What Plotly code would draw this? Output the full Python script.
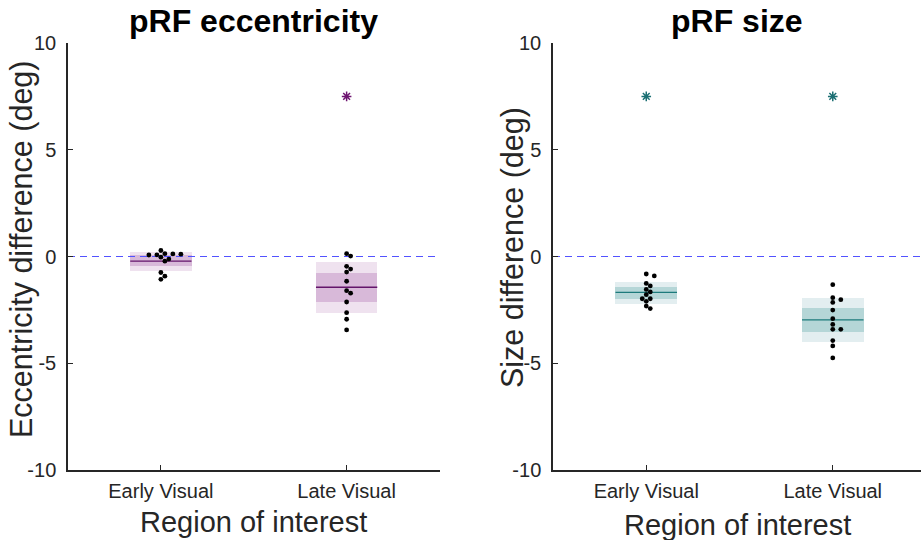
import plotly.graph_objects as go

# ---------------- data ----------------
categories = ["Early Visual", "Late Visual"]
cat_pos = [1, 2]

ecc_early = [0.28, 0.13, 0.08, 0.12, 0.07, 0.11, -0.03, -0.12, -0.22, -0.75, -0.92, -1.07]
ecc_late = [0.13, 0.02, -0.46, -0.59, -0.73, -1.16, -1.60, -1.72, -2.13, -2.63, -2.94, -3.44]
size_early = [-0.82, -0.91, -1.26, -1.38, -1.54, -1.66, -1.79, -1.98, -1.98, -2.10, -2.32, -2.44]
size_late = [-1.32, -1.93, -2.02, -2.15, -2.51, -2.91, -3.18, -3.41, -3.41, -3.94, -4.19, -4.75]

ecc_median = [-0.22, -1.44]
ecc_inner_lo = [-0.45, -2.13]
ecc_inner_hi = [0.07, -0.79]
ecc_outer_lo = [-0.66, -2.63]
ecc_outer_hi = [0.21, -0.27]

size_median = [-1.68, -2.97]
size_inner_lo = [-1.98, -3.55]
size_inner_hi = [-1.41, -2.40]
size_outer_lo = [-2.21, -3.99]
size_outer_hi = [-1.19, -1.96]

ecc_sig = [None, 7.5]
size_sig = [7.5, 7.5]

yticks = [-10, -5, 0, 5, 10]
yticklabels = ["-10", "-5", "0", "5", "10"]

# ---------------- style ----------------
FONT = "Liberation Sans, Arial, Helvetica, sans-serif"
AXC = "#262626"
BOXW = 0.33
purple = dict(outer="#efe2ef", inner="#d8b9d9", med="#63146a", star="#6e1470")
teal = dict(outer="#e3eef0", inner="#b5d6d7", med="#1c7a7b", star="#1b6f73")

XPX = 185.75  # px per x unit
YPX = 21.35   # px per y unit


def swarm(vals, dmin=4.5, step=4.0):
    placed = []
    offs = []
    for v in vals:
        cands = [0]
        for i in range(1, 10):
            cands += [i * step, -i * step]
        for c in cands:
            ok = True
            for (px, pv) in placed:
                dx = c - px
                dy = (v - pv) * YPX
                if (dx * dx + dy * dy) ** 0.5 < dmin:
                    ok = False
                    break
            if ok:
                break
        placed.append((c, v))
        offs.append(c / XPX)
    return offs


fig = go.Figure()


def add_panel(xa, ya, groups, med, ilo, ihi, olo, ohi, sig, col):
    fig.add_trace(go.Bar(x=cat_pos, base=olo, y=[h - l for h, l in zip(ohi, olo)],
                         width=BOXW, marker=dict(color=col["outer"], line=dict(width=0)),
                         xaxis=xa, yaxis=ya, showlegend=False, hoverinfo="skip"))
    fig.add_trace(go.Bar(x=cat_pos, base=ilo, y=[h - l for h, l in zip(ihi, ilo)],
                         width=BOXW, marker=dict(color=col["inner"], line=dict(width=0)),
                         xaxis=xa, yaxis=ya, showlegend=False, hoverinfo="skip"))
    fig.add_trace(go.Scatter(x=[0.5, 2.5], y=[0, 0], mode="lines",
                             line=dict(color="#5252ff", width=1, dash="7px,5px"),
                             xaxis=xa, yaxis=ya, showlegend=False, hoverinfo="skip"))
    for c, m in zip(cat_pos, med):
        fig.add_trace(go.Scatter(x=[c - BOXW / 2, c + BOXW / 2], y=[m, m], mode="lines",
                                 line=dict(color=col["med"], width=1.3),
                                 xaxis=xa, yaxis=ya, showlegend=False, hoverinfo="skip"))
    for c, vals in zip(cat_pos, groups):
        offs = swarm(vals)
        fig.add_trace(go.Scatter(x=[c + o for o in offs], y=vals, mode="markers",
                                 marker=dict(color="black", size=4.8),
                                 xaxis=xa, yaxis=ya, showlegend=False))
    sx = [c for c, s in zip(cat_pos, sig) if s is not None]
    sy = [s for s in sig if s is not None]
    fig.add_trace(go.Scatter(x=sx, y=sy, mode="markers",
                             marker=dict(symbol="asterisk-open", size=8, color=col["star"],
                                         line=dict(color=col["star"], width=1.5)),
                             xaxis=xa, yaxis=ya, showlegend=False))


add_panel("x", "y", [ecc_early, ecc_late], ecc_median, ecc_inner_lo, ecc_inner_hi,
          ecc_outer_lo, ecc_outer_hi, ecc_sig, purple)
add_panel("x2", "y2", [size_early, size_late], size_median, size_inner_lo, size_inner_hi,
          size_outer_lo, size_outer_hi, size_sig, teal)

W, H = 921, 540
L1, R1 = 68 / W, 439.5 / W
L2, R2 = 553 / W, 1.0
Y0, Y1 = (H - 470) / H, (H - 43) / H

xcommon = dict(tickvals=cat_pos, ticktext=categories, ticks="inside", ticklen=5,
               tickwidth=1.3, tickcolor=AXC, showline=True, linecolor=AXC, linewidth=1.5,
               showgrid=False, zeroline=False, automargin=False,
               tickfont=dict(family=FONT, size=20, color="#262626"), ticklabelstandoff=2)
ycommon = dict(range=[-10, 10], tickvals=yticks, ticktext=yticklabels, ticks="inside",
               ticklen=5, tickwidth=1.3, tickcolor=AXC, showline=True, linecolor=AXC,
               linewidth=1.5, showgrid=False, zeroline=False, automargin=False,
               tickfont=dict(family=FONT, size=20, color="#262626"), ticklabelstandoff=6)

fig.update_layout(
    width=W, height=H, margin=dict(l=0, r=0, t=0, b=0, pad=0, autoexpand=False),
    paper_bgcolor="white", plot_bgcolor="white", barmode="overlay", bargap=0,
    xaxis=dict(domain=[L1, R1], range=[0.5, 2.5], anchor="y", **xcommon),
    yaxis=dict(domain=[Y0, Y1], anchor="x", **ycommon),
    xaxis2=dict(domain=[L2, R2], range=[0.5, 0.5 + (W - 554.5) / XPX], anchor="y2", **xcommon),
    yaxis2=dict(domain=[Y0, Y1], anchor="x2", **ycommon),
)

ann = []


def A(text, xpx, ypx, size, bold=False, angle=0):
    ann.append(dict(text=("<b>%s</b>" % text) if bold else text, x=xpx / W, y=(H - ypx) / H,
                    xref="paper", yref="paper", xanchor="center", yanchor="middle",
                    showarrow=False, textangle=angle,
                    font=dict(family=FONT, size=size, color="#000000" if bold else "#262626")))


A("pRF eccentricity", (68 + 439.5) / 2, 21, 32, bold=True)
A("pRF size", (553 + 921) / 2, 21, 32, bold=True)
A("Region of interest", (68 + 439.5) / 2, 522, 29)
A("Region of interest", (553 + 921) / 2, 525, 29)
A("Eccentricity difference (deg)", 22, 250, 30.5, angle=-90)
A("Size difference (deg)", 512, 248, 30.5, angle=-90)
fig.update_layout(annotations=ann)

fig.write_html("out.html")
